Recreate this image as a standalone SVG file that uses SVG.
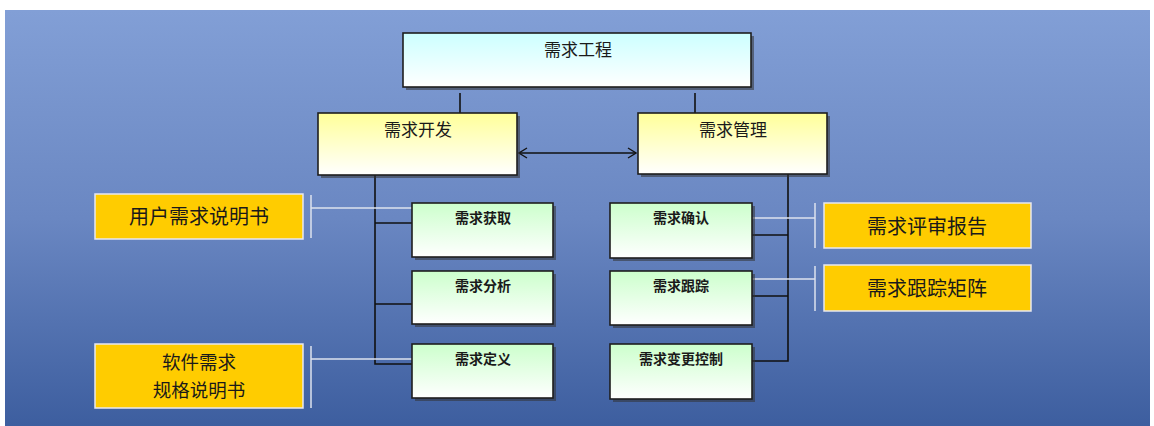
<svg xmlns="http://www.w3.org/2000/svg" width="1154" height="426" viewBox="0 0 1154 426">
  <defs>
    <linearGradient id="bg" x1="0" y1="0" x2="0" y2="1">
      <stop offset="0" stop-color="#829fd6"/>
      <stop offset="0.5" stop-color="#6a87c2"/>
      <stop offset="1" stop-color="#3d5e9f"/>
    </linearGradient>
    <linearGradient id="cyan" x1="0" y1="0" x2="0" y2="1">
      <stop offset="0" stop-color="#ccffff"/>
      <stop offset="1" stop-color="#ffffff"/>
    </linearGradient>
    <linearGradient id="yellow" x1="0" y1="0" x2="0" y2="1">
      <stop offset="0" stop-color="#ffff99"/>
      <stop offset="1" stop-color="#ffffff"/>
    </linearGradient>
    <linearGradient id="green" x1="0" y1="0" x2="0" y2="1">
      <stop offset="0" stop-color="#ccffcc"/>
      <stop offset="1" stop-color="#ffffff"/>
    </linearGradient>
    <marker id="chev" viewBox="0 0 10 12" refX="9" refY="6" markerWidth="10" markerHeight="12" markerUnits="userSpaceOnUse" orient="auto-start-reverse">
      <path d="M1,1 L9,6 L1,11" fill="none" stroke="#111" stroke-width="1.3"/>
    </marker>
  </defs>
  <style>
    .shadow { fill: #333; opacity: 0.55; }
    .box { stroke: #1e1e1e; stroke-width: 1.6; }
    .out { fill: #ffcc00; stroke: #e8e8f0; stroke-width: 1.5; }
    .link { stroke: #111; stroke-width: 1.6; fill: none; }
    .note { stroke: #dde2ee; stroke-width: 1.5; fill: none; }
    text { font-family: "Noto Sans CJK SC", "Noto Sans", sans-serif; fill: #1a1a1a; text-anchor: middle; }
    .t1 { font-size: 17px; }
    .t2 { font-size: 14px; font-weight: bold; }
    .t3 { font-size: 20px; }
    .t3s { font-size: 18.5px; }
  </style>

  <rect width="1154" height="426" fill="#ffffff"/>
  <rect x="5" y="10" width="1145" height="416" fill="url(#bg)"/>

  <!-- connectors -->
  <g id="connectors">
    <line class="link" x1="460" y1="93" x2="460" y2="113"/>
    <line class="link" x1="695" y1="93" x2="695" y2="113"/>
    <line class="link" x1="519" y1="153" x2="636" y2="153" marker-start="url(#chev)" marker-end="url(#chev)"/>
    <!-- development branch -->
    <polyline class="link" points="375,175 375,364 412,364"/>
    <line class="link" x1="375" y1="223" x2="412" y2="223"/>
    <line class="link" x1="375" y1="304" x2="412" y2="304"/>
    <!-- management branch -->
    <polyline class="link" points="788,174 788,361 752,361"/>
    <line class="link" x1="752" y1="235" x2="788" y2="235"/>
    <line class="link" x1="752" y1="296" x2="788" y2="296"/>
    <!-- deliverable brackets -->
    <path class="note" d="M311,195 V238 M311,208 H412"/>
    <path class="note" d="M311,346 V408 M311,359 H412"/>
    <path class="note" d="M815,203 V248 M752,218 H815"/>
    <path class="note" d="M815,266 V311 M752,279 H815"/>
  </g>

  <g id="root">
    <rect class="shadow" x="406" y="36" width="348" height="54"/>
    <rect class="box" x="403" y="33" width="348" height="54" fill="url(#cyan)"/>
    <text class="t1" x="578" y="56">需求工程</text>
  </g>

  <g id="dev">
    <rect class="shadow" x="321" y="116" width="199" height="62"/>
    <rect class="box" x="318" y="113" width="199" height="62" fill="url(#yellow)"/>
    <text class="t1" x="418" y="136">需求开发</text>
  </g>

  <g id="mgmt">
    <rect class="shadow" x="641" y="116" width="189" height="61"/>
    <rect class="box" x="638" y="113" width="189" height="61" fill="url(#yellow)"/>
    <text class="t1" x="733" y="136">需求管理</text>
  </g>

  <g id="elicit">
    <rect class="shadow" x="415" y="206" width="141" height="54"/>
    <rect class="box" x="412" y="203" width="141" height="54" fill="url(#green)"/>
    <text class="t2" x="483" y="223">需求获取</text>
  </g>
  <g id="analyze">
    <rect class="shadow" x="415" y="274" width="141" height="53"/>
    <rect class="box" x="412" y="271" width="141" height="53" fill="url(#green)"/>
    <text class="t2" x="483" y="291">需求分析</text>
  </g>
  <g id="define">
    <rect class="shadow" x="415" y="347" width="141" height="54"/>
    <rect class="box" x="412" y="344" width="141" height="54" fill="url(#green)"/>
    <text class="t2" x="483" y="364">需求定义</text>
  </g>

  <g id="confirm">
    <rect class="shadow" x="613" y="206" width="142" height="55"/>
    <rect class="box" x="610" y="203" width="142" height="55" fill="url(#green)"/>
    <text class="t2" x="681" y="223">需求确认</text>
  </g>
  <g id="trace">
    <rect class="shadow" x="613" y="274" width="142" height="54"/>
    <rect class="box" x="610" y="271" width="142" height="54" fill="url(#green)"/>
    <text class="t2" x="681" y="291">需求跟踪</text>
  </g>
  <g id="change">
    <rect class="shadow" x="613" y="347" width="142" height="55"/>
    <rect class="box" x="610" y="344" width="142" height="55" fill="url(#green)"/>
    <text class="t2" x="681" y="364">需求变更控制</text>
  </g>

  <g id="user-spec">
    <rect class="out" x="95" y="194" width="208" height="45"/>
    <text class="t3" x="199" y="224">用户需求说明书</text>
  </g>
  <g id="srs">
    <rect class="out" x="95" y="344" width="208" height="64"/>
    <text class="t3s" x="199" y="369">软件需求</text>
    <text class="t3s" x="199" y="397">规格说明书</text>
  </g>
  <g id="review-report">
    <rect class="out" x="824" y="203" width="207" height="45"/>
    <text class="t3" x="927" y="234">需求评审报告</text>
  </g>
  <g id="trace-matrix">
    <rect class="out" x="824" y="265" width="207" height="46"/>
    <text class="t3" x="927" y="296">需求跟踪矩阵</text>
  </g>
</svg>
